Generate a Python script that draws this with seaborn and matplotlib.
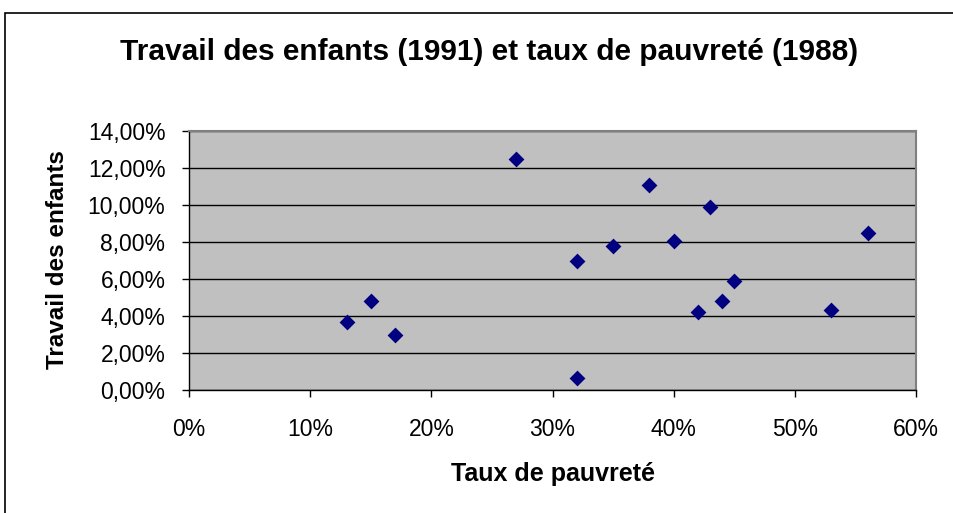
import pandas as pd
import matplotlib
matplotlib.use('Agg')
import matplotlib.pyplot as plt
import seaborn as sns
from matplotlib.ticker import FuncFormatter, MultipleLocator
from matplotlib.patches import Rectangle

# --- données ---
taux_pauvrete = [13, 15, 17, 27, 32, 32, 35, 38, 40, 43, 42, 44, 45, 53, 56]
travail_enfants = [3.66, 4.83, 2.99, 12.49, 6.97, 0.65, 7.78, 11.08, 8.07,
                   9.91, 4.20, 4.83, 5.91, 4.31, 8.49]

df = pd.DataFrame({'pauvrete': taux_pauvrete, 'travail': travail_enfants})

sns.set_style('white')
plt.rcParams['font.family'] = ['Liberation Sans', 'DejaVu Sans']
plt.rcParams['text.color'] = 'black'
plt.rcParams['axes.labelcolor'] = 'black'

fig = plt.figure(figsize=(9.54, 5.13), dpi=100)
ax = fig.add_axes([189 / 954, 1 - 390 / 513, (916 - 189) / 954, (390 - 131) / 513])

# cadre extérieur du graphique
fig.patches.append(Rectangle((5 / 954, -0.1), 1.1, 1 - 13 / 513 + 0.1,
                             transform=fig.transFigure, fill=False,
                             edgecolor='black', linewidth=1.2))

ax.set_facecolor('#C0C0C0')
ax.set_axisbelow(True)
ax.yaxis.grid(True, color='black', linewidth=1)
ax.xaxis.grid(False)

sns.scatterplot(data=df, x='pauvrete', y='travail', marker='D', s=65,
                color='#000080', linewidth=0, ax=ax, zorder=3)

ax.set_xlim(0, 60)
ax.set_ylim(0, 14)
ax.xaxis.set_major_locator(MultipleLocator(10))
ax.yaxis.set_major_locator(MultipleLocator(2))
ax.xaxis.set_major_formatter(FuncFormatter(lambda v, p: f'{v:.0f}%'))
ax.yaxis.set_major_formatter(FuncFormatter(lambda v, p: f'{v:.2f}%'.replace('.', ',')))

ax.tick_params(axis='both', direction='out', length=5, width=1, color='black',
               labelsize=16.5, labelcolor='black', bottom=True, left=True)
ax.tick_params(axis='x', pad=15)
ax.tick_params(axis='y', pad=12)

for side in ['left', 'bottom']:
    ax.spines[side].set_color('black')
    ax.spines[side].set_linewidth(1)
for side in ['top', 'right']:
    ax.spines[side].set_color('#808080')
    ax.spines[side].set_linewidth(1.5)

ax.set_xlabel('Taux de pauvreté', fontsize=18, fontweight='bold')
ax.set_ylabel('Travail des enfants', fontsize=17.5, fontweight='bold')
ax.xaxis.label.set_va('center')
ax.yaxis.label.set_va('center')
ax.xaxis.set_label_coords((553 - 189) / 727, (390 - 474) / 259)
ax.yaxis.set_label_coords((58 - 189) / 727, (390 - 260) / 259)

fig.text(489 / 954, 1 - 52 / 513, 'Travail des enfants (1991) et taux de pauvreté (1988)',
         ha='center', va='center', fontsize=21.5, fontweight='bold')

fig.savefig('out.png', dpi=100, facecolor='white')
